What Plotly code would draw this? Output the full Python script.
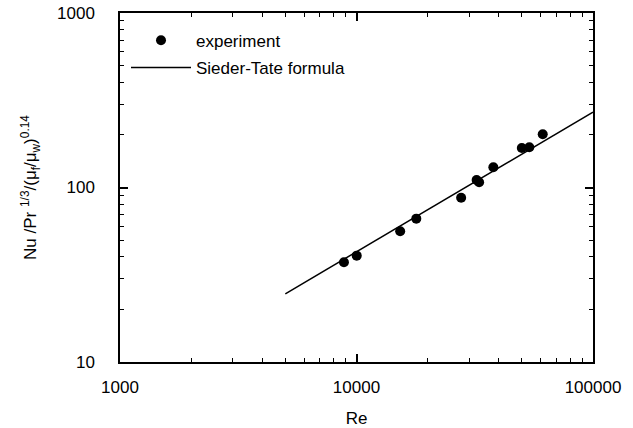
import plotly.graph_objects as go

re_exp = [8850, 10020, 15300, 17900, 27700, 32200, 33000, 37900, 50000, 53800, 61300]
nu_exp = [37.3, 40.7, 56.1, 66.3, 87.4, 110.4, 107.1, 130.6, 168.4, 170.0, 201.8]

# Sieder-Tate line endpoints (straight on log-log axes)
re_line = [5000, 100000]
nu_line = [24.6, 270.0]

x_major = [1000, 10000, 100000]
x_major_text = ["1000", "10000", "100000"]
x_minor = [2000, 3000, 4000, 5000, 6000, 7000, 8000, 9000,
           20000, 30000, 40000, 50000, 60000, 70000, 80000, 90000]
y_major = [10, 100, 1000]
y_major_text = ["10", "100", "1000"]
y_minor = [20, 30, 40, 50, 60, 70, 80, 90, 200, 300, 400, 500, 600, 700, 800, 900]

FONT = "Liberation Sans, Arial, Helvetica, sans-serif"

fig = go.Figure()
fig.add_trace(go.Scatter(
    x=re_exp, y=nu_exp, mode="markers", name="experiment", legendgroup="a",
    marker=dict(color="black", size=10),
))
fig.add_trace(go.Scatter(
    x=re_line, y=nu_line, mode="lines", name="Sieder-Tate formula", legendgroup="b",
    line=dict(color="black", width=1.5),
))

axis_common = dict(
    type="log", showline=True, linecolor="black", linewidth=1.5, mirror="ticks",
    ticks="inside", ticklen=8, tickwidth=1.5, tickcolor="black",
    showgrid=False, zeroline=False, automargin=False,
    ticklabeloverflow="allow",
    tickfont=dict(family=FONT, size=17, color="black"),
)

fig.update_xaxes(
    **axis_common, range=[3, 5],
    tickvals=x_major, ticktext=x_major_text,
    minor=dict(tickvals=x_minor, ticks="inside", ticklen=4, tickwidth=1.2, tickcolor="black", showgrid=False),
    title=dict(text="Re", font=dict(family=FONT, size=17, color="black"), standoff=16),
    ticklabelstandoff=9,
)
fig.update_yaxes(
    **axis_common, range=[1, 3],
    tickvals=y_major, ticktext=y_major_text,
    minor=dict(tickvals=y_minor, ticks="inside", ticklen=4, tickwidth=1.2, tickcolor="black", showgrid=False),
    title=dict(text="Nu /Pr <sup>1/3</sup>/(μ<sub>f</sub>/μ<sub>w</sub>)<sup>0.14</sup>",
               font=dict(family=FONT, size=17, color="black"), standoff=16),
    ticklabelstandoff=20,
)

fig.update_layout(
    width=633, height=428,
    margin=dict(l=120, r=40, t=13, b=66),
    paper_bgcolor="white", plot_bgcolor="white",
    font=dict(family=FONT, size=17, color="black"),
    showlegend=True,
    legend=dict(
        x=0.0127, y=0.972, xanchor="left", yanchor="top",
        bgcolor="rgba(0,0,0,0)", borderwidth=0,
        font=dict(family=FONT, size=17, color="black"),
        itemwidth=60, traceorder="grouped", tracegroupgap=2,
    ),
)

fig.write_html("out.html", config={"displayModeBar": False},
               post_script="document.body.style.margin='0';")
